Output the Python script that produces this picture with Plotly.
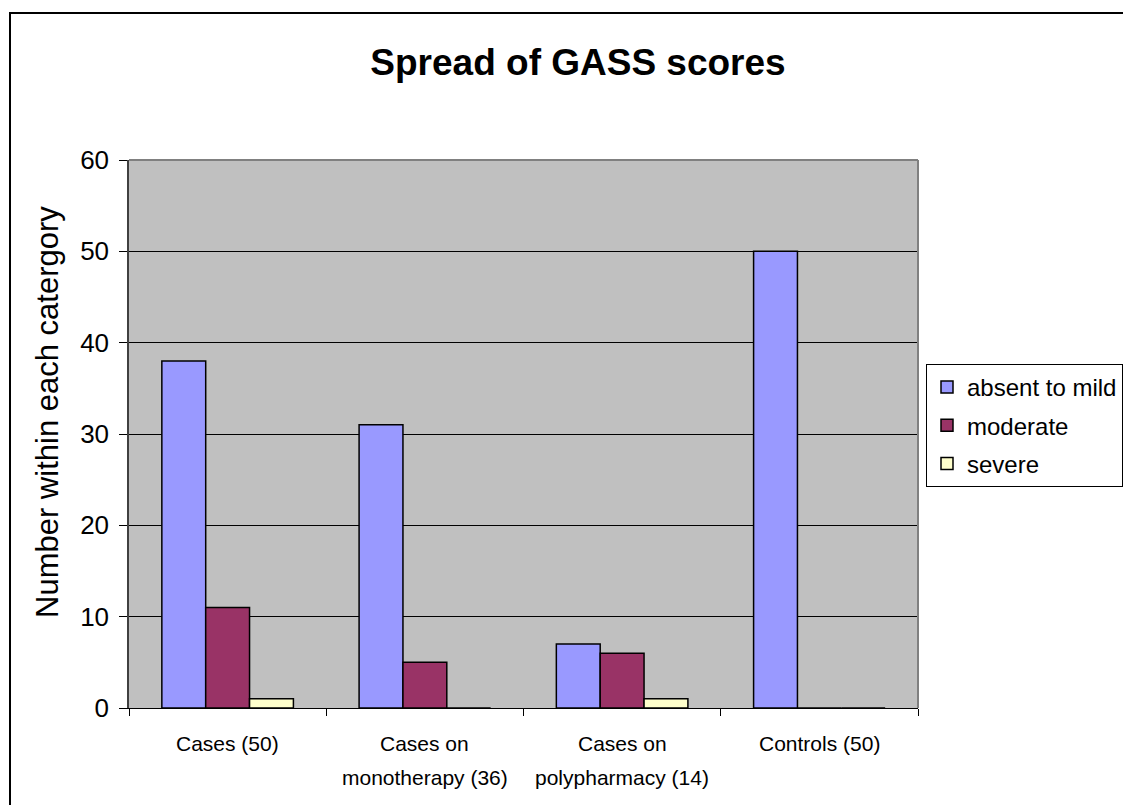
import plotly.graph_objects as go

categories = ["Cases (50)", "Cases on monotherapy (36)", "Cases on polypharmacy (14)", "Controls (50)"]
label_lines = [["Cases (50)"], ["Cases on", "monotherapy (36)"], ["Cases on", "polypharmacy (14)"], ["Controls (50)"]]
absent_to_mild = [38, 31, 7, 50]
moderate = [11, 5, 6, 0]
severe = [1, 0, 1, 0]
series_names = ["absent to mild", "moderate", "severe"]
series_values = [absent_to_mild, moderate, severe]
colors = ["#9999FF", "#993366", "#FFFFCC"]
y_ticks = [0, 10, 20, 30, 40, 50, 60]

OFF = 8  # page body margin offset
W, H = 1131 - OFF, 805 - OFF
L, R, T, B = 129 - OFF, 918 - OFF, 160 - OFF, 708 - OFF
FONT = "Arial, Liberation Sans, sans-serif"


def px_x(p):
    return (p - OFF - L) / (R - L)


def px_y(p):
    return (B - (p - OFF)) / (B - T)


fig = go.Figure()
for i, (name, vals, col) in enumerate(zip(series_names, series_values, colors)):
    fig.add_trace(go.Bar(
        x=categories, y=vals, name=name, legendgroup=f"g{i}",
        marker=dict(color=col, line=dict(color="black", width=1.5)),
    ))

annotations = []
for cat, lines in zip(categories, label_lines):
    for j, line in enumerate(lines):
        annotations.append(dict(
            x=cat, xref="x", y=px_y(743 + 34 * j), yref="paper",
            text=line, showarrow=False, xanchor="center", yanchor="middle",
            font=dict(family=FONT, size=21, color="black"),
        ))
annotations.append(dict(
    x=px_x(47), xref="paper", y=px_y(412), yref="paper",
    text="Number within each catergory", textangle=-90, showarrow=False,
    xanchor="center", yanchor="middle",
    font=dict(family=FONT, size=31, color="black"),
))

shapes = [
    dict(type="rect", xref="paper", yref="paper",
         x0=px_x(10), x1=px_x(1145), y0=px_y(820), y1=px_y(13),
         line=dict(color="black", width=2), fillcolor="rgba(0,0,0,0)", layer="below"),
    dict(type="line", xref="paper", yref="paper", x0=0, x1=1, y0=1, y1=1,
         line=dict(color="#808080", width=2), layer="above"),
    dict(type="line", xref="paper", yref="paper", x0=1, x1=1, y0=0, y1=1,
         line=dict(color="#808080", width=2), layer="above"),
]

fig.update_layout(
    width=W, height=H,
    margin=dict(l=L, r=W - R, t=T, b=H - B, pad=0, autoexpand=False),
    paper_bgcolor="white", plot_bgcolor="#C0C0C0",
    font=dict(family=FONT, color="black"),
    title=dict(text="<b>Spread of GASS scores</b>", x=(578 - OFF) / W, xref="container",
               xanchor="center", y=1 - (62 - OFF) / H, yref="container", yanchor="middle",
               font=dict(family=FONT, size=37, color="black")),
    barmode="group", bargap=0.333, bargroupgap=0,
    showlegend=True,
    legend=dict(x=px_x(926), y=px_y(364), xanchor="left", yanchor="top",
                bgcolor="white", bordercolor="black", borderwidth=1,
                font=dict(family=FONT, size=24, color="black"),
                traceorder="grouped", tracegroupgap=4, itemwidth=30),
    annotations=annotations,
    shapes=shapes,
)
fig.update_xaxes(
    type="category", showticklabels=False, ticks="outside", ticklen=7,
    tickcolor="black", tickwidth=1, tickson="boundaries",
    showline=True, linecolor="black", linewidth=1, showgrid=False,
)
fig.update_yaxes(
    range=[0, 60], tickvals=y_ticks, ticks="outside", ticklen=8,
    tickcolor="black", tickwidth=1, ticklabelstandoff=5,
    tickfont=dict(family=FONT, size=26, color="black"),
    showline=True, linecolor="#404040", linewidth=1.5,
    showgrid=True, gridcolor="black", gridwidth=1, zeroline=False,
)

fig.write_html("out.html")
